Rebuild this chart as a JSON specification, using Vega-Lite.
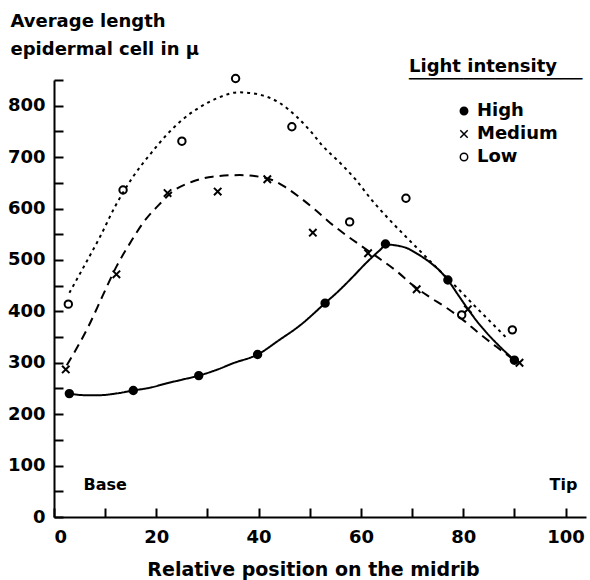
{
  "$schema": "https://vega.github.io/schema/vega-lite/v6.json",
  "width": 532,
  "height": 437,
  "autosize": {"type": "none"},
  "padding": {"left": 54, "top": 80, "right": 4, "bottom": 63},
  "background": "white",
  "config": {
    "view": {"stroke": null},
    "font": "DejaVu Sans"
  },
  "datasets": {
    "pts": [
      {"s": "High", "pos": 3, "len": 240},
      {"s": "High", "pos": 15.5, "len": 246},
      {"s": "High", "pos": 28.3, "len": 275},
      {"s": "High", "pos": 39.8, "len": 316},
      {"s": "High", "pos": 53, "len": 416},
      {"s": "High", "pos": 64.8, "len": 531},
      {"s": "High", "pos": 77, "len": 461},
      {"s": "High", "pos": 90, "len": 305},
      {"s": "Medium", "pos": 2.3, "len": 287},
      {"s": "Medium", "pos": 12.2, "len": 472},
      {"s": "Medium", "pos": 22.2, "len": 630},
      {"s": "Medium", "pos": 32, "len": 633},
      {"s": "Medium", "pos": 41.7, "len": 657},
      {"s": "Medium", "pos": 50.6, "len": 553},
      {"s": "Medium", "pos": 61.4, "len": 513},
      {"s": "Medium", "pos": 70.9, "len": 443},
      {"s": "Medium", "pos": 80.9, "len": 404},
      {"s": "Medium", "pos": 91, "len": 300},
      {"s": "Low", "pos": 2.8, "len": 414},
      {"s": "Low", "pos": 13.5, "len": 636},
      {"s": "Low", "pos": 25, "len": 731},
      {"s": "Low", "pos": 35.5, "len": 853},
      {"s": "Low", "pos": 46.5, "len": 759},
      {"s": "Low", "pos": 57.8, "len": 574},
      {"s": "Low", "pos": 68.8, "len": 620},
      {"s": "Low", "pos": 79.7, "len": 393},
      {"s": "Low", "pos": 89.6, "len": 364}
    ],
    "curves": [
      {"series": "High", "pos": 3, "len": 240},
      {"series": "High", "pos": 6, "len": 237},
      {"series": "High", "pos": 9, "len": 237},
      {"series": "High", "pos": 12, "len": 240},
      {"series": "High", "pos": 15.5, "len": 246},
      {"series": "High", "pos": 19, "len": 252},
      {"series": "High", "pos": 22, "len": 260},
      {"series": "High", "pos": 25, "len": 267},
      {"series": "High", "pos": 28.3, "len": 275},
      {"series": "High", "pos": 32, "len": 287},
      {"series": "High", "pos": 35, "len": 299},
      {"series": "High", "pos": 39.8, "len": 316},
      {"series": "High", "pos": 44, "len": 344},
      {"series": "High", "pos": 48, "len": 372},
      {"series": "High", "pos": 53, "len": 416},
      {"series": "High", "pos": 56, "len": 443},
      {"series": "High", "pos": 58.4, "len": 467},
      {"series": "High", "pos": 61, "len": 494},
      {"series": "High", "pos": 63.7, "len": 519},
      {"series": "High", "pos": 65, "len": 530},
      {"series": "High", "pos": 67, "len": 528},
      {"series": "High", "pos": 69, "len": 523},
      {"series": "High", "pos": 71, "len": 512},
      {"series": "High", "pos": 73.4, "len": 496},
      {"series": "High", "pos": 75.5, "len": 478},
      {"series": "High", "pos": 77, "len": 461},
      {"series": "High", "pos": 79, "len": 432},
      {"series": "High", "pos": 80.6, "len": 409},
      {"series": "High", "pos": 82.5, "len": 383},
      {"series": "High", "pos": 84.6, "len": 358},
      {"series": "High", "pos": 87, "len": 333},
      {"series": "High", "pos": 90, "len": 305},
      {"series": "Medium", "pos": 2.5, "len": 295},
      {"series": "Medium", "pos": 3.5, "len": 312},
      {"series": "Medium", "pos": 6.7, "len": 370},
      {"series": "Medium", "pos": 9.5, "len": 430},
      {"series": "Medium", "pos": 12.2, "len": 487},
      {"series": "Medium", "pos": 15, "len": 535},
      {"series": "Medium", "pos": 17.4, "len": 572},
      {"series": "Medium", "pos": 20.5, "len": 607},
      {"series": "Medium", "pos": 23.3, "len": 634},
      {"series": "Medium", "pos": 27, "len": 652},
      {"series": "Medium", "pos": 31, "len": 662},
      {"series": "Medium", "pos": 36.3, "len": 665},
      {"series": "Medium", "pos": 40, "len": 662},
      {"series": "Medium", "pos": 42.8, "len": 655},
      {"series": "Medium", "pos": 45, "len": 643},
      {"series": "Medium", "pos": 48, "len": 622},
      {"series": "Medium", "pos": 51, "len": 598},
      {"series": "Medium", "pos": 54, "len": 572},
      {"series": "Medium", "pos": 57, "len": 549},
      {"series": "Medium", "pos": 60.4, "len": 525},
      {"series": "Medium", "pos": 64, "len": 500},
      {"series": "Medium", "pos": 67, "len": 478},
      {"series": "Medium", "pos": 70, "len": 452},
      {"series": "Medium", "pos": 73.4, "len": 428},
      {"series": "Medium", "pos": 77, "len": 405},
      {"series": "Medium", "pos": 80, "len": 383},
      {"series": "Medium", "pos": 83, "len": 358},
      {"series": "Medium", "pos": 86.5, "len": 331},
      {"series": "Medium", "pos": 90, "len": 305},
      {"series": "Low", "pos": 3, "len": 436},
      {"series": "Low", "pos": 6, "len": 490},
      {"series": "Low", "pos": 9, "len": 545},
      {"series": "Low", "pos": 12, "len": 605},
      {"series": "Low", "pos": 15.4, "len": 661},
      {"series": "Low", "pos": 19, "len": 708},
      {"series": "Low", "pos": 22, "len": 743},
      {"series": "Low", "pos": 25, "len": 772},
      {"series": "Low", "pos": 28.5, "len": 797},
      {"series": "Low", "pos": 32, "len": 815},
      {"series": "Low", "pos": 36, "len": 826},
      {"series": "Low", "pos": 40, "len": 822},
      {"series": "Low", "pos": 44, "len": 806},
      {"series": "Low", "pos": 47.4, "len": 779},
      {"series": "Low", "pos": 50, "len": 752},
      {"series": "Low", "pos": 52.5, "len": 722},
      {"series": "Low", "pos": 56, "len": 688},
      {"series": "Low", "pos": 59, "len": 656},
      {"series": "Low", "pos": 62, "len": 618},
      {"series": "Low", "pos": 65.6, "len": 578},
      {"series": "Low", "pos": 69, "len": 543},
      {"series": "Low", "pos": 72, "len": 513},
      {"series": "Low", "pos": 75, "len": 483},
      {"series": "Low", "pos": 78.6, "len": 448},
      {"series": "Low", "pos": 82, "len": 413},
      {"series": "Low", "pos": 85, "len": 383},
      {"series": "Low", "pos": 88.7, "len": 346}
    ],
    "notes": [
      {"pos": 10, "len": 62, "label": "Base"},
      {"pos": 99.6, "len": 62, "label": "Tip"}
    ]
  },
  "encoding": {
    "x": {
      "field": "pos", "type": "quantitative",
      "scale": {"domain": [0, 104], "nice": false},
      "axis": {
        "values": [0, 10, 20, 30, 40, 50, 60, 70, 80, 90, 100],
        "labelExpr": "datum.value % 20 === 0 ? datum.label : ''",
        "grid": false,
        "zindex": 1,
        "domainColor": "black",
        "domainWidth": 2,
        "tickColor": "black",
        "tickWidth": 2,
        "tickSize": -9,
        "labelFont": "DejaVu Sans",
        "labelFontSize": 18,
        "labelFontWeight": "bold",
        "labelColor": "black",
        "labelPadding": 20,
        "title": "Relative position on the midrib",
        "titleFont": "DejaVu Sans",
        "titleColor": "black",
        "titleFontWeight": "bold",
        "titleFontSize": 19,
        "titleBaseline": "top",
        "titleX": 259,
        "titleY": 43
      }
    },
    "y": {
      "field": "len", "type": "quantitative",
      "scale": {"domain": [0, 850], "nice": false},
      "axis": {
        "values": [0, 50, 100, 150, 200, 250, 300, 350, 400, 450, 500, 550, 600, 650, 700, 750, 800, 850],
        "labelExpr": "datum.value % 100 === 0 ? datum.label : ''",
        "grid": false,
        "zindex": 1,
        "domainColor": "black",
        "domainWidth": 2,
        "tickColor": "black",
        "tickWidth": 2,
        "tickSize": -9,
        "labelFont": "DejaVu Sans",
        "labelFontSize": 18,
        "labelFontWeight": "bold",
        "labelColor": "black",
        "labelPadding": 18,
        "title": ["Average length", "epidermal cell in μ"],
        "titleFont": "DejaVu Sans",
        "titleColor": "black",
        "titleFontWeight": "bold",
        "titleAngle": 0,
        "titleAlign": "left",
        "titleBaseline": "top",
        "titleFontSize": 18,
        "titleLineHeight": 28,
        "titleX": -44,
        "titleY": -68
      }
    }
  },
  "layer": [
    {
      "data": {"name": "pts"},
      "mark": {"type": "point", "filled": false, "stroke": "black", "strokeWidth": 2, "size": 55, "opacity": 1},
      "encoding": {
        "shape": {
          "field": "s", "type": "nominal",
          "scale": {"domain": ["High", "Medium", "Low"], "range": ["circle", "M-1,-1L1,1M-1,1L1,-1", "circle"]},
          "legend": {
            "title": ["Light intensity", "────────────────"],
            "orient": "none",
            "legendX": 355,
            "legendY": -22,
            "zindex": 1,
            "titleFont": "DejaVu Sans",
            "titleFontSize": 18,
            "titleLineHeight": 13,
            "titlePadding": 13,
            "titleColor": "black",
            "titleFontWeight": "bold",
            "labelFont": "DejaVu Sans",
            "labelFontSize": 18,
            "labelFontWeight": "bold",
            "labelColor": "black",
            "symbolOffset": 46,
            "symbolSize": 55,
            "rowPadding": 5,
            "padding": 0,
            "encode": {
              "symbols": {
                "update": {
                  "stroke": {"value": "black"},
                  "strokeWidth": {"value": 2}
                }
              }
            }
          }
        },
        "fill": {
          "field": "s", "type": "nominal",
          "scale": {"domain": ["High", "Medium", "Low"], "range": ["black", "transparent", "white"]}
        }
      }
    },
    {
      "data": {"name": "curves"},
      "mark": {"type": "line", "interpolate": "monotone", "color": "black", "strokeWidth": 2},
      "encoding": {
        "strokeDash": {
          "field": "series", "type": "nominal",
          "scale": {"range": [[1, 0], [3, 4], [9, 6]]},
          "legend": null
        },
        "order": {"field": "pos", "type": "quantitative"}
      }
    },
    {
      "data": {"name": "notes"},
      "mark": {"type": "text", "font": "DejaVu Sans", "fontWeight": "bold", "fontSize": 16, "color": "black"},
      "encoding": {
        "text": {"field": "label"}
      }
    }
  ]
}
